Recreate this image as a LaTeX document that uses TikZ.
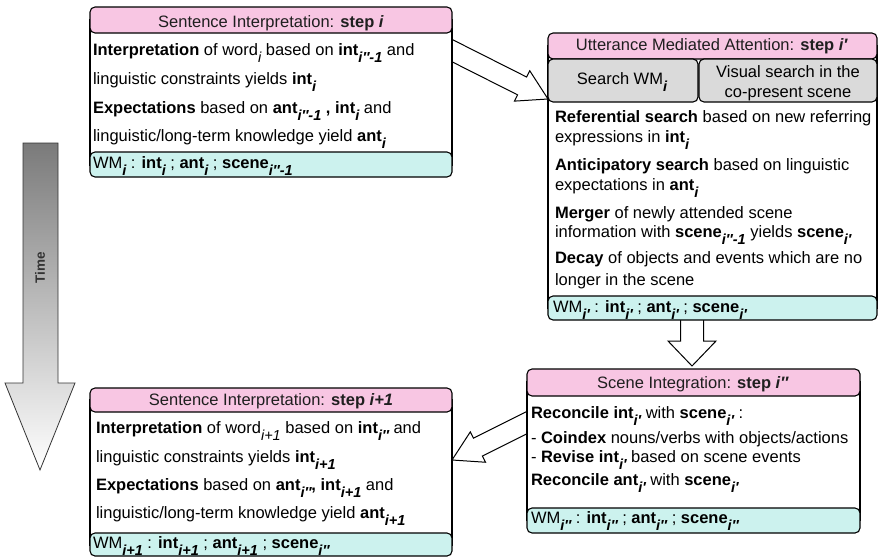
\documentclass[tikz,border=0pt]{standalone}
\usepackage{fontspec}
\setmainfont{Liberation Sans}
\usetikzlibrary{calc}
\definecolor{hdrpink}{HTML}{F8C6E3}
\definecolor{wmcyan}{HTML}{CCF2EE}
\definecolor{btngray}{HTML}{DADADA}
\newcommand{\sbi}[1]{\raisebox{-0.45em}{\fontsize{14.5}{14}\selectfont\bfseries\itshape #1}}
\newcommand{\sri}[1]{\raisebox{-0.45em}{\fontsize{14.5}{14}\selectfont\itshape #1}}
\newcommand{\blockarrow}[5]{%
  \coordinate (hb) at ($(#2)!#5!(#1)$);
  \draw[blockarr] ($(#1)!#3!90:(#2)$) -- ($(hb)!#3!90:(#2)$) -- ($(hb)!#4!90:(#2)$) -- (#2)
    -- ($(hb)!#4!-90:(#2)$) -- ($(hb)!#3!-90:(#2)$) -- ($(#1)!#3!-90:(#2)$) -- cycle;}
\begin{document}
\begin{tikzpicture}[x=1pt,y=-1pt,
  every node/.style={font=\fontsize{16.5}{20}\selectfont, inner sep=0pt, outer sep=0pt},
  hdr/.style={draw=black, line width=1.1pt, rounded corners=5pt, fill=hdrpink, anchor=north west},
  wmbar/.style={draw=black, line width=1.1pt, rounded corners=5pt, fill=wmcyan, anchor=north west},
  btn/.style={draw=black, line width=1.1pt, rounded corners=5pt, fill=btngray, anchor=north west, align=center},
  bodybox/.style={draw=black, line width=1.1pt, fill=white, anchor=north west},
  txt/.style={anchor=base west},
  ttl/.style={anchor=base, text=black!88},
  blockarr/.style={draw=black, line width=1pt, fill=white, line join=miter},
]
\useasboundingbox (0,0) rectangle (880,557);

% Time arrow
\shade[top color=black!52, bottom color=white, draw=black!80, line width=0.8pt]
  (23,143) -- (58,143) -- (58,383) -- (75,383) -- (40,470) -- (5,383) -- (23,383) -- cycle;
\node[rotate=90, font=\fontsize{13.5}{13.5}\selectfont\bfseries, text=black!80] (time) at (40,268) {Time};

% body boxes
\node[bodybox, minimum width=362pt, minimum height=145pt] (A) at (90,20) {};
\node[bodybox, minimum width=329pt, minimum height=262pt] (B) at (548,46) {};
\node[bodybox, minimum width=333pt, minimum height=138pt] (C) at (527,382) {};
\node[bodybox, minimum width=362pt, minimum height=145pt] (D) at (90,400) {};

% connector anchor points
\coordinate (ab0) at ($(A.north east)+(-19,21)$);
\coordinate (ab1) at ($(B.north west)+(0,53)$);
\coordinate (bc0) at ($(B.south west)+(144,2)$);
\coordinate (bc1) at ($(C.north west)+(165,-16)$);
\coordinate (cd0) at ($(C.north west)+(15,33)$);
\coordinate (cd1) at ($(D.north east)+(0,60)$);

% block arrows
\blockarrow{ab0}{ab1}{10pt}{17pt}{29pt}
\blockarrow{bc0}{bc1}{11.5pt}{24pt}{25pt}
\blockarrow{cd0}{cd1}{10pt}{17pt}{29pt}

% redraw bodies to cover arrow tails
\node[bodybox, minimum width=362pt, minimum height=145pt] at (90,20) {};
\node[bodybox, minimum width=333pt, minimum height=138pt] at (527,382) {};

% headers and WM bars
\node[hdr, minimum width=362pt, minimum height=26pt] (Ah) at (90,7) {};
\node[wmbar, minimum width=362pt, minimum height=25pt] (Aw) at (90,152) {};
\node[hdr, minimum width=329pt, minimum height=26pt] (Bh) at (548,33) {};
\node[btn, minimum width=150pt, minimum height=43pt] (Bs1) at (548,59) {};
\node[btn, minimum width=178pt, minimum height=43pt] (Bs2) at (699,59) {};
\node[wmbar, minimum width=329pt, minimum height=24pt] (Bw) at (548,296) {};
\node[hdr, minimum width=333pt, minimum height=27pt] (Ch) at (527,369) {};
\node[wmbar, minimum width=333pt, minimum height=25pt] (Cw) at (527,508) {};
\node[hdr, minimum width=362pt, minimum height=24pt] (Dh) at (90,388) {};
\node[wmbar, minimum width=362pt, minimum height=23pt] (Dw) at (90,533) {};

% Box A text
\node[ttl] (At) at (271,27) {Sentence Interpretation: \textbf{step \textit{i}}};
\node[txt] (A1) at (93,55) {\textbf{Interpretation} of word\sri{i} based on \textbf{int}\sbi{i″-1} and};
\node[txt] (A2) at (93,84) {linguistic constraints yields \textbf{int}\sbi{i}};
\node[txt] (A3) at (93,113) {\textbf{Expectations} based on \textbf{ant}\sbi{i″-1}\textbf{ ,} \textbf{int}\sbi{i} and};
\node[txt] (A4) at (93,141) {linguistic/long-term knowledge yield \textbf{ant}\sbi{i}};
\node[txt] (A5) at (93,168) {WM\sbi{i} : \textbf{int}\sbi{i} ; \textbf{ant}\sbi{i} ; \textbf{scene}\sbi{i″-1}};

% Box B text
\node[ttl] (Bt) at (712,50) {Utterance Mediated Attention: \textbf{step \textit{i′}}};
\node[anchor=base] (Bb1) at (622,84) {Search WM\sbi{i}};
\node[anchor=base, align=center] (Bb2) at (788,77) {Visual search in the};
\node[anchor=base, align=center] (Bb3) at (788,97) {co-present scene};
\node[txt] (B1) at (555,122) {\textbf{Referential search} based on new referring};
\node[txt] (B2) at (555,142) {expressions in \textbf{int}\sbi{i}};
\node[txt] (B3) at (555,170) {\textbf{Anticipatory search} based on linguistic};
\node[txt] (B4) at (555,190) {expectations in \textbf{ant}\sbi{i}};
\node[txt] (B5) at (555,218) {\textbf{Merger} of newly attended scene};
\node[txt] (B6) at (555,237) {information with \textbf{scene}\sbi{i″-1} yields \textbf{scene}\sbi{i′}};
\node[txt] (B7) at (555,263) {\textbf{Decay} of objects and events which are no};
\node[txt] (B8) at (555,285) {longer in the scene};
\node[txt] (B9) at (553,312) {WM\sbi{i′} : \textbf{int}\sbi{i′} ; \textbf{ant}\sbi{i′} ; \textbf{scene}\sbi{i′}};

% Box C text
\node[ttl] (Ct) at (693,388) {Scene Integration: \textbf{step \textit{i″}}};
\node[txt] (C1) at (531,418) {\textbf{Reconcile int}\sbi{i′} with \textbf{scene}\sbi{i′} :};
\node[txt] (C2) at (531,443) {- \textbf{Coindex} nouns/verbs with objects/actions};
\node[txt] (C3) at (531,462) {- \textbf{Revise int}\sbi{i′} based on scene events};
\node[txt] (C4) at (531,485) {\textbf{Reconcile ant}\sbi{i′} with \textbf{scene}\sbi{i′}};
\node[txt] (C5) at (531,523) {WM\sbi{i″} : \textbf{int}\sbi{i″} ; \textbf{ant}\sbi{i″} ; \textbf{scene}\sbi{i″}};

% Box D text
\node[ttl] (Dt) at (271,405) {Sentence Interpretation: \textbf{step \textit{i+1}}};
\node[txt] (D1) at (96,433) {\textbf{Interpretation} of word\sri{i+1} based on \textbf{int}\sbi{i″} and};
\node[txt] (D2) at (96,462) {linguistic constraints yields \textbf{int}\sbi{i+1}};
\node[txt] (D3) at (96,490) {\textbf{Expectations} based on \textbf{ant}\sbi{i″}\textbf{,} \textbf{int}\sbi{i+1} and};
\node[txt] (D4) at (96,518) {linguistic/long-term knowledge yield \textbf{ant}\sbi{i+1}};
\node[txt] (D5) at (93,548) {WM\sbi{i+1} : \textbf{int}\sbi{i+1} ; \textbf{ant}\sbi{i+1} ; \textbf{scene}\sbi{i″}};
\end{tikzpicture}
\end{document}
